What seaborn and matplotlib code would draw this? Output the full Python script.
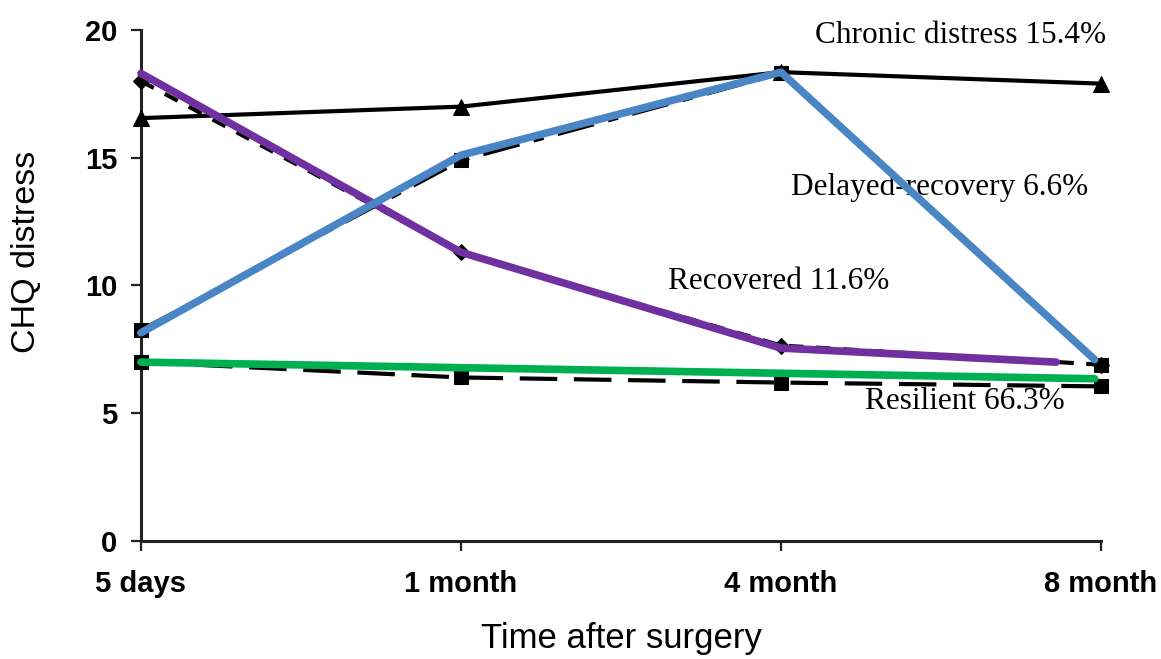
import matplotlib
matplotlib.use("Agg")
import matplotlib.pyplot as plt
import seaborn as sns
import pandas as pd

# Time points after surgery
time_labels = ["5 days", "1 month", "4 month", "8 month"]
time_pos = [0, 1, 2, 3]

# Mean CHQ distress per trajectory group (black reference lines)
chronic = [16.55, 17.0, 18.35, 17.9]
delayed = [8.25, 14.9, 18.3, 6.9]
recovered = [18.0, 11.3, 7.65, 6.9]
resilient = [7.0, 6.4, 6.2, 6.05]

# Coloured highlight traces drawn over the group lines
purple_x = [0, 1, 2, 2.86]
purple_y = [18.3, 11.3, 7.55, 7.0]
blue_x = [0, 1, 2, 2.98]
blue_y = [8.15, 15.1, 18.35, 7.1]
green_x = [0, 2.98]
green_y = [7.0, 6.35]

# Group labels and their positions
group_labels = ["Chronic distress 15.4%", "Delayed-recovery 6.6%",
                "Recovered 11.6%", "Resilient 66.3%"]
label_x = [2.5625, 2.497, 1.994, 2.575]
label_y = [19.8, 13.85, 10.14, 5.44]

sns.set_style("ticks")
plt.rcParams["font.family"] = ["Liberation Sans", "DejaVu Sans"]

fig = plt.figure(figsize=(11.61, 6.59), dpi=100)
ax = fig.add_axes([0.1214, 0.1791, 0.8269, 0.7754])

groups = [
    ("chronic", chronic, "^", 11, None),
    ("delayed", delayed, "s", 10, (9, 3.5, 2.5, 3.5)),
    ("recovered", recovered, "D", 8, (3.5, 3)),
    ("resilient", resilient, "s", 10, (9, 4)),
]
for name, vals, mk, ms, ds in groups:
    df = pd.DataFrame({"time": time_pos, "distress": vals})
    sns.lineplot(data=df, x="time", y="distress", ax=ax, color="black",
                 linewidth=3, marker=mk, markersize=ms,
                 markeredgecolor="black", dashes=False, clip_on=False,
                 zorder=3)
    line = ax.lines[-1]
    if ds:
        line.set_dashes(ds)

for xs, ys, col in [(purple_x, purple_y, "#7030A0"),
                    (blue_x, blue_y, "#4A86C5"),
                    (green_x, green_y, "#00B050")]:
    df = pd.DataFrame({"time": xs, "distress": ys})
    sns.lineplot(data=df, x="time", y="distress", ax=ax, color=col,
                 linewidth=5.5, clip_on=False, zorder=4, sort=False)

for txt, x, y in zip(group_labels, label_x, label_y):
    ax.text(x, y, txt, ha="center", va="center", fontsize=22.5,
            family="Liberation Serif", color="black", zorder=2)

ax.set_xlim(0, 3)
ax.set_ylim(0, 20)
ax.set_xticks(time_pos)
ax.set_xticklabels(time_labels, fontsize=21, fontweight="bold", color="black")
ax.set_yticks([0, 5, 10, 15, 20])
ax.set_yticklabels(["0", "5", "10", "15", "20"], fontsize=21,
                   fontweight="bold", color="black")
ax.set_xlabel("Time after surgery", fontsize=25, color="black")
ax.set_ylabel("CHQ distress", fontsize=24.5, color="black")
ax.xaxis.set_label_coords(0.501, -0.158)
ax.yaxis.set_label_coords(-0.103, 0.566)
ax.tick_params(axis="both", length=7, width=1.6, color="#222222")
ax.tick_params(axis="x", pad=14)
ax.tick_params(axis="y", pad=10)
sns.despine(ax=ax)
for sp in ["left", "bottom"]:
    ax.spines[sp].set_linewidth(2.2)
    ax.spines[sp].set_color("#222222")

fig.savefig("out.png", dpi=100)
